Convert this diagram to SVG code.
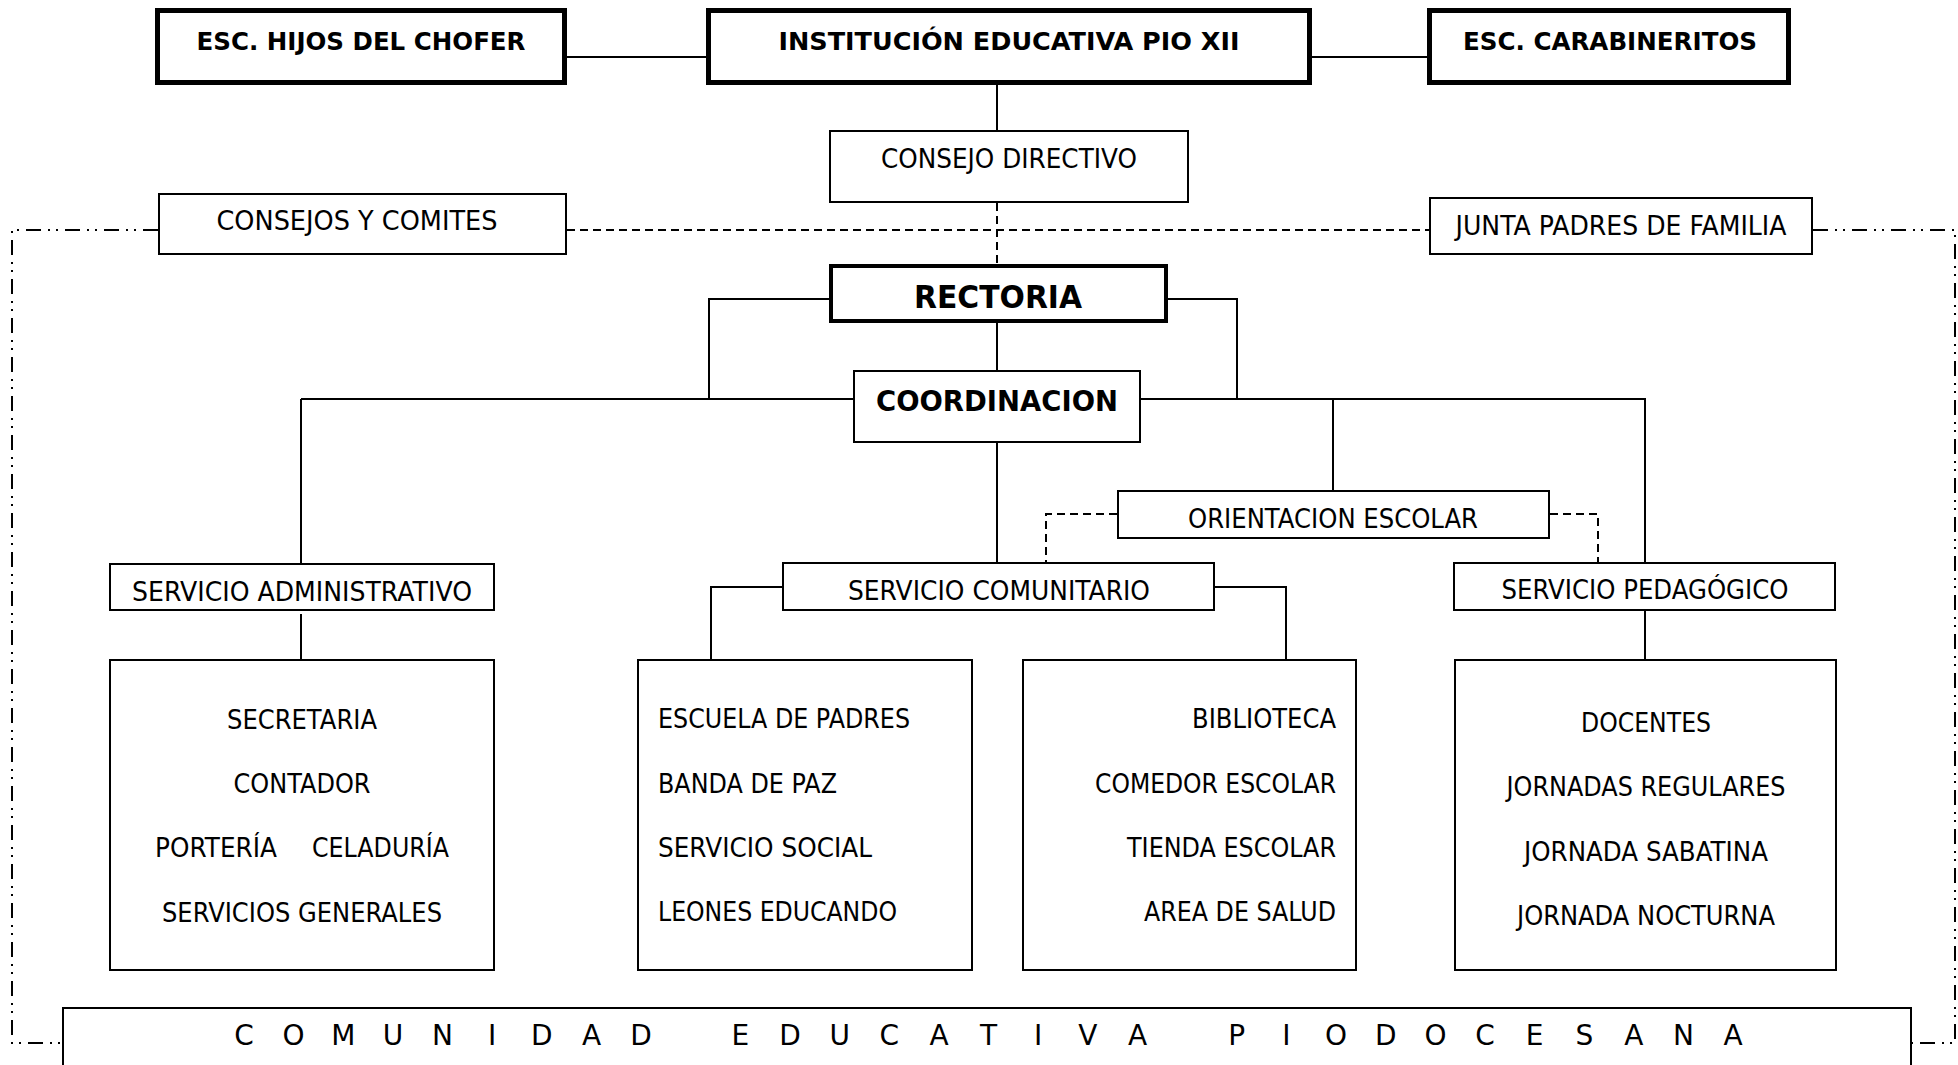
<svg xmlns="http://www.w3.org/2000/svg" width="1958" height="1065" viewBox="0 0 1958 1065">
<style>
.bg{fill:#fff}
.box{fill:#fff;stroke:#000;stroke-width:2}
.thick{fill:#fff;stroke:#000;stroke-width:5}
.mid{fill:#fff;stroke:#000;stroke-width:4}
.t{font-family:"DejaVu Sans","Liberation Sans",sans-serif;font-size:26.5px;fill:#000}
.c{text-anchor:middle}
.b{font-weight:bold;font-size:25px}
.ln{fill:none;stroke:#000;stroke-width:2}
.dash{fill:none;stroke:#000;stroke-width:2;stroke-dasharray:8 5}
.ddot{fill:none;stroke:#000;stroke-width:2;stroke-dasharray:15 7 2 6 2 7}
</style>
<rect class="bg" x="0" y="0" width="1958" height="1065"/>
<g id="connectors">
<path class="ln" d="M567,57 H706 M1312,57 H1427"/>
<path class="ln" d="M997,85 V130"/>
<path class="ln" d="M829,299 H709 V399 M1168,299 H1237 V399"/>
<path class="ln" d="M997,323 V370"/>
<path class="ln" d="M301,399 H853 M1141,399 H1645 V562"/>
<path class="ln" d="M301,399 V563"/>
<path class="ln" d="M1333,399 V490"/>
<path class="ln" d="M997,443 V562"/>
<path class="ln" d="M301,614 V662"/>
<path class="ln" d="M782,587 H711 V659 M1215,587 H1286 V659"/>
<path class="ln" d="M1645,611 V659"/>
<path class="dash" d="M997,203 V264"/>
<path class="dash" d="M567,230 H1429"/>
<path class="dash" d="M1117,514 H1046 V562"/>
<path class="dash" d="M1550,514 H1598 V562"/>
<path class="ddot" d="M158,230 H12 V1043 H62"/>
<path class="ddot" d="M1813,230 H1955 V1043 H1912"/>
</g>
<g id="esc-hijos">
<rect class="thick" x="157.5" y="10.5" width="407" height="72"/>
<text class="t c b" x="361" y="50" textLength="329" lengthAdjust="spacingAndGlyphs">ESC. HIJOS DEL CHOFER</text>
</g>
<g id="institucion">
<rect class="thick" x="708.5" y="10.5" width="601" height="72"/>
<text class="t c b" x="1009" y="50" textLength="461" lengthAdjust="spacingAndGlyphs">INSTITUCIÓN EDUCATIVA PIO XII</text>
</g>
<g id="esc-carabineritos">
<rect class="thick" x="1429.5" y="10.5" width="359" height="72"/>
<text class="t c b" x="1610" y="50" textLength="294" lengthAdjust="spacingAndGlyphs">ESC. CARABINERITOS</text>
</g>
<g id="consejo-directivo">
<rect class="box" x="830" y="131" width="358" height="71"/>
<text class="t c" x="1009" y="168" textLength="256" lengthAdjust="spacingAndGlyphs">CONSEJO DIRECTIVO</text>
</g>
<g id="consejos-comites">
<rect class="box" x="159" y="194" width="407" height="60"/>
<text class="t c" x="357" y="230" textLength="281" lengthAdjust="spacingAndGlyphs">CONSEJOS Y COMITES</text>
</g>
<g id="junta-padres">
<rect class="box" x="1430" y="198" width="382" height="56"/>
<text class="t c" x="1621" y="235" textLength="331" lengthAdjust="spacingAndGlyphs">JUNTA PADRES DE FAMILIA</text>
</g>
<g id="rectoria">
<rect class="mid" x="831" y="266" width="335" height="55"/>
<text class="t c b" x="998" y="308" style="font-size:32px" textLength="168" lengthAdjust="spacingAndGlyphs">RECTORIA</text>
</g>
<g id="coordinacion">
<rect class="box" x="854" y="371" width="286" height="71"/>
<text class="t c b" x="997" y="411" style="font-size:29px" textLength="242" lengthAdjust="spacingAndGlyphs">COORDINACION</text>
</g>
<g id="orientacion">
<rect class="box" x="1118" y="491" width="431" height="47"/>
<text class="t c" x="1333" y="528" textLength="290" lengthAdjust="spacingAndGlyphs">ORIENTACION ESCOLAR</text>
</g>
<g id="servicio-administrativo">
<rect class="box" x="110" y="564" width="384" height="46"/>
<text class="t c" x="302" y="601" textLength="340" lengthAdjust="spacingAndGlyphs">SERVICIO ADMINISTRATIVO</text>
</g>
<g id="servicio-comunitario">
<rect class="box" x="783" y="563" width="431" height="47"/>
<text class="t c" x="999" y="600" textLength="302" lengthAdjust="spacingAndGlyphs">SERVICIO COMUNITARIO</text>
</g>
<g id="servicio-pedagogico">
<rect class="box" x="1454" y="563" width="381" height="47"/>
<text class="t c" x="1645" y="599" textLength="287" lengthAdjust="spacingAndGlyphs">SERVICIO PEDAGÓGICO</text>
</g>
<g id="admin-items">
<rect class="box" x="110" y="660" width="384" height="310"/>
<text class="t c" x="302" y="729" textLength="150" lengthAdjust="spacingAndGlyphs">SECRETARIA</text>
<text class="t c" x="302" y="793" textLength="137" lengthAdjust="spacingAndGlyphs">CONTADOR</text>
<text class="t" y="857"><tspan x="155" textLength="122" lengthAdjust="spacingAndGlyphs">PORTERÍA</tspan> <tspan x="312" textLength="137" lengthAdjust="spacingAndGlyphs">CELADURÍA</tspan></text>
<text class="t c" x="302" y="922" textLength="280" lengthAdjust="spacingAndGlyphs">SERVICIOS GENERALES</text>
</g>
<g id="comunitario-items-1">
<rect class="box" x="638" y="660" width="334" height="310"/>
<text class="t" x="658" y="728" textLength="252" lengthAdjust="spacingAndGlyphs">ESCUELA DE PADRES</text>
<text class="t" x="658" y="793" textLength="179" lengthAdjust="spacingAndGlyphs">BANDA DE PAZ</text>
<text class="t" x="658" y="857" textLength="214" lengthAdjust="spacingAndGlyphs">SERVICIO SOCIAL</text>
<text class="t" x="658" y="921" textLength="239" lengthAdjust="spacingAndGlyphs">LEONES EDUCANDO</text>
</g>
<g id="comunitario-items-2">
<rect class="box" x="1023" y="660" width="333" height="310"/>
<text class="t" x="1192" y="728" textLength="144" lengthAdjust="spacingAndGlyphs">BIBLIOTECA</text>
<text class="t" x="1095" y="793" textLength="241" lengthAdjust="spacingAndGlyphs">COMEDOR ESCOLAR</text>
<text class="t" x="1127" y="857" textLength="209" lengthAdjust="spacingAndGlyphs">TIENDA ESCOLAR</text>
<text class="t" x="1144" y="921" textLength="192" lengthAdjust="spacingAndGlyphs">AREA DE SALUD</text>
</g>
<g id="pedagogico-items">
<rect class="box" x="1455" y="660" width="381" height="310"/>
<text class="t c" x="1646" y="732" textLength="130" lengthAdjust="spacingAndGlyphs">DOCENTES</text>
<text class="t c" x="1646" y="796" textLength="279" lengthAdjust="spacingAndGlyphs">JORNADAS REGULARES</text>
<text class="t c" x="1646" y="861" textLength="244" lengthAdjust="spacingAndGlyphs">JORNADA SABATINA</text>
<text class="t c" x="1646" y="925" textLength="258" lengthAdjust="spacingAndGlyphs">JORNADA NOCTURNA</text>
</g>
<g id="comunidad-educativa">
<rect class="box" x="63" y="1008" width="1848" height="100"/>
<text class="t c" xml:space="preserve" style="font-size:28px;white-space:pre" y="1045" x="244 268.8 293.6 318.5 343.3 368.1 392.9 417.7 442.6 467.4 492.2 517 541.8 566.7 591.5 616.3 641.1 665.9 690.8 715.6 740.4 765.2 790 814.9 839.7 864.5 889.3 914.1 939 963.8 988.6 1013.4 1038.2 1063.1 1087.9 1112.7 1137.5 1162.3 1187.2 1212 1236.8 1261.6 1286.4 1311.3 1336.1 1360.9 1385.7 1410.5 1435.4 1460.2 1485 1509.8 1534.6 1559.5 1584.3 1609.1 1633.9 1658.7 1683.6 1708.4 1733.2">C O M U N I D A D   E D U C A T I V A   P I O D O C E S A N A</text>
</g>
</svg>
